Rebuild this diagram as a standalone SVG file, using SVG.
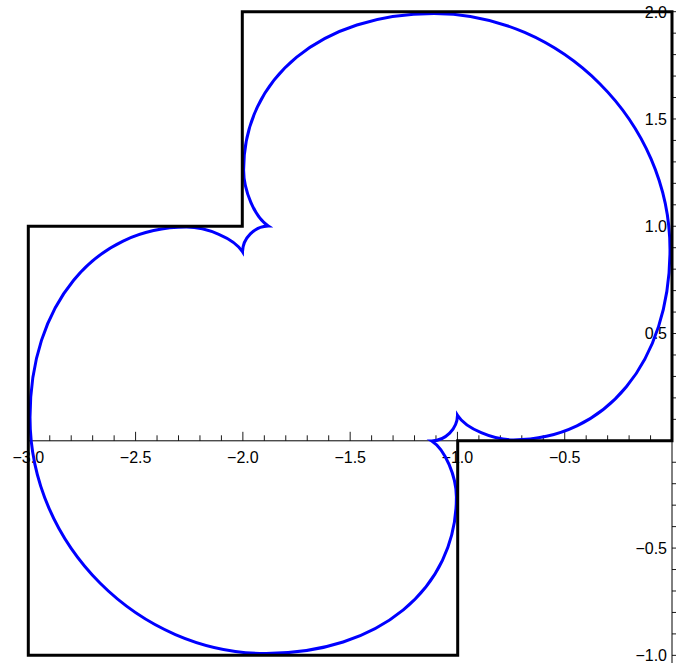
<svg xmlns="http://www.w3.org/2000/svg" width="676" height="663" viewBox="0 0 676 663">
  <style>
    .axis { stroke: #000; stroke-width: 1; fill: none; }
    .tick { stroke: #000; stroke-width: 0.9; fill: none; }
    .lbl { font-family: "Liberation Sans", Arial, sans-serif; font-size: 16px; fill: #000; }
    .xl { text-anchor: middle; }
    .yl { text-anchor: end; }
    .region { fill: none; stroke: #000; stroke-width: 3; stroke-linejoin: miter; }
    .curve { fill: none; stroke: #0000ff; stroke-width: 3; stroke-linejoin: miter; stroke-miterlimit: 20; }
  </style>
  <rect x="0" y="0" width="676" height="663" fill="#ffffff"/>

  <g id="axes">
    <line class="axis" x1="28.3" y1="440.8" x2="672" y2="440.8"/>
    <line class="axis" x1="672" y1="11.7" x2="672" y2="663"/>
    <path class="tick" d="M28.3,440.8v-9 M49.76,440.8v-5.5 M71.21,440.8v-5.5 M92.67,440.8v-5.5 M114.13,440.8v-5.5 M135.59,440.8v-9 M157.04,440.8v-5.5 M178.5,440.8v-5.5 M199.96,440.8v-5.5 M221.41,440.8v-5.5 M242.87,440.8v-9 M264.33,440.8v-5.5 M285.78,440.8v-5.5 M307.24,440.8v-5.5 M328.7,440.8v-5.5 M350.16,440.8v-9 M371.61,440.8v-5.5 M393.07,440.8v-5.5 M414.53,440.8v-5.5 M435.98,440.8v-5.5 M457.44,440.8v-9 M478.9,440.8v-5.5 M500.35,440.8v-5.5 M521.81,440.8v-5.5 M543.27,440.8v-5.5 M564.73,440.8v-9 M586.18,440.8v-5.5 M607.64,440.8v-5.5 M629.1,440.8v-5.5 M650.55,440.8v-5.5"/>
    <path class="tick" d="M672,655.35h9 M672,633.9h5.5 M672,612.44h5.5 M672,590.99h5.5 M672,569.53h5.5 M672,548.08h9 M672,526.62h5.5 M672,505.17h5.5 M672,483.71h5.5 M672,462.26h5.5 M672,419.35h5.5 M672,397.89h5.5 M672,376.44h5.5 M672,354.98h5.5 M672,333.53h9 M672,312.07h5.5 M672,290.62h5.5 M672,269.16h5.5 M672,247.71h5.5 M672,226.25h9 M672,204.8h5.5 M672,183.34h5.5 M672,161.89h5.5 M672,140.43h5.5 M672,118.98h9 M672,97.52h5.5 M672,76.07h5.5 M672,54.61h5.5 M672,33.16h5.5 M672,11.7h9"/>
    <g class="lbl xl">
      <text x="28.3" y="463">−3.0</text>
      <text x="135.6" y="463">−2.5</text>
      <text x="242.9" y="463">−2.0</text>
      <text x="350.2" y="463">−1.5</text>
      <text x="457.4" y="463">−1.0</text>
      <text x="564.7" y="463">−0.5</text>
    </g>
    <g class="lbl yl">
      <text x="667" y="17.5">2.0</text>
      <text x="667" y="124.8">1.5</text>
      <text x="667" y="232.1">1.0</text>
      <text x="667" y="339.4">0.5</text>
      <text x="667" y="553.9">−0.5</text>
      <text x="667" y="661.2">−1.0</text>
    </g>
  </g>

  <g id="curve">
    <path class="curve" d="M268.3,226 C254.7,217.5 243.6,190 243.6,170 C243.6,77.7 321.7,13.5 434,13.5 C561.4,13.5 670,122.1 670,249.5 C670,361.8 605.8,439.9 513.5,439.9 C493.5,439.9 466,428.8 457.5,415.2 C457.2,429 445.5,440.7 431.7,441 C445.3,449.5 456.4,477 456.4,497 C456.4,589.3 378.3,653.5 266,653.5 C138.6,653.5 30,544.9 30,417.5 C30,305.2 94.2,227.1 186.5,227.1 C206.5,227.1 234,238.2 242.5,251.8 C242.8,238 254.5,226.3 268.3,226 Z"/>
  </g>

  <g id="region">
    <polygon class="region" points="672,440.8 672,11.7 242.3,11.7 242.3,226.25 28.3,226.25 28.3,655.3 457.7,655.3 457.7,440.8"/>
  </g>
</svg>
